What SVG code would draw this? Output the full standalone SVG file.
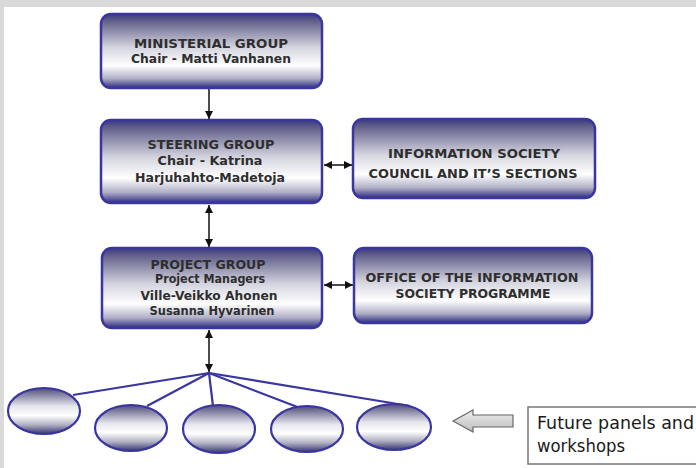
<svg xmlns="http://www.w3.org/2000/svg" width="696" height="468" viewBox="0 0 696 468">
  <style>
    .box { stroke: #3a36a0; stroke-width: 2.5; fill: url(#boxGrad); }
    .oval { stroke: #3a36a0; stroke-width: 2.2; fill: url(#ovalGrad); }
    .t { font-family: "DejaVu Sans", Verdana, sans-serif; font-weight: bold; fill: #2e2e2e; text-anchor: middle; }
    .conn { stroke: #111; stroke-width: 1.5; fill: none; }
    .spoke { stroke: #3a36a0; stroke-width: 2.2; fill: none; }
    .note { font-family: "DejaVu Sans", Tahoma, sans-serif; font-size: 17px; fill: #1a1a1a; }
  </style>
  <defs>
    <linearGradient id="boxGrad" x1="0" y1="0" x2="0" y2="1">
      <stop offset="0" stop-color="#3b3880"/>
      <stop offset="0.1" stop-color="#64628c"/>
      <stop offset="0.45" stop-color="#d4d4df"/>
      <stop offset="0.7" stop-color="#ffffff"/>
      <stop offset="0.87" stop-color="#b0b0c6"/>
      <stop offset="1" stop-color="#2e2a80"/>
    </linearGradient>
    <linearGradient id="ovalGrad" x1="0" y1="0" x2="0" y2="1">
      <stop offset="0" stop-color="#4e4c78"/>
      <stop offset="0.4" stop-color="#e6e6ee"/>
      <stop offset="0.6" stop-color="#ffffff"/>
      <stop offset="0.8" stop-color="#b0b0c4"/>
      <stop offset="1" stop-color="#35336e"/>
    </linearGradient>
    <linearGradient id="arrowGrad" x1="0" y1="0" x2="0" y2="1">
      <stop offset="0" stop-color="#eeeeee"/>
      <stop offset="1" stop-color="#bdbdbd"/>
    </linearGradient>
    <marker id="head" viewBox="0 0 10 10" refX="10" refY="5" markerWidth="5.5" markerHeight="5.5" orient="auto-start-reverse" markerUnits="strokeWidth">
      <path d="M0,0 L10,5 L0,10 Z" fill="#111"/>
    </marker>
  </defs>

  <!-- page background and frame strips -->
  <rect x="0" y="0" width="696" height="468" fill="#ffffff"/>
  <rect x="0" y="0" width="696" height="7" fill="#d9d9d9"/>
  <rect x="0" y="0" width="4" height="468" fill="#d9d9d9"/>

  <!-- connectors -->
  <g id="connectors">
    <line class="conn" x1="209" y1="89" x2="209" y2="119" marker-end="url(#head)"/>
    <line class="conn" x1="209" y1="205" x2="209" y2="247" marker-start="url(#head)" marker-end="url(#head)"/>
    <line class="conn" x1="209" y1="330" x2="209" y2="372" marker-start="url(#head)" marker-end="url(#head)"/>
    <line class="conn" x1="324" y1="165" x2="352" y2="165" marker-start="url(#head)" marker-end="url(#head)"/>
    <line class="conn" x1="324" y1="285" x2="353" y2="285" marker-start="url(#head)" marker-end="url(#head)"/>
    <line class="spoke" x1="209" y1="373" x2="73" y2="395"/>
    <line class="spoke" x1="209" y1="373" x2="147" y2="406"/>
    <line class="spoke" x1="209" y1="373" x2="213" y2="406"/>
    <line class="spoke" x1="209" y1="373" x2="300" y2="408"/>
    <line class="spoke" x1="209" y1="373" x2="410" y2="406"/>
    <polygon points="453,421 473,410 473,415 513,415 513,427 473,427 473,432" fill="url(#arrowGrad)" stroke="#666" stroke-width="1.2"/>
  </g>

  <g id="ministerial-group">
    <rect class="box" x="101" y="14" width="221" height="74" rx="10"/>
    <text class="t" x="211" y="48" font-size="12.5" textLength="154" lengthAdjust="spacingAndGlyphs">MINISTERIAL GROUP</text>
    <text class="t" x="211" y="63" font-size="12.5" textLength="160" lengthAdjust="spacingAndGlyphs">Chair - Matti Vanhanen</text>
  </g>

  <g id="steering-group">
    <rect class="box" x="101" y="120" width="221" height="83" rx="10"/>
    <text class="t" x="211" y="149" font-size="12" textLength="127" lengthAdjust="spacingAndGlyphs">STEERING GROUP</text>
    <text class="t" x="210" y="165" font-size="13" textLength="105" lengthAdjust="spacingAndGlyphs">Chair - Katrina</text>
    <text class="t" x="210" y="182" font-size="13" textLength="150" lengthAdjust="spacingAndGlyphs">Harjuhahto-Madetoja</text>
  </g>

  <g id="information-society-council">
    <rect class="box" x="353" y="119" width="242" height="79" rx="10"/>
    <text class="t" x="474" y="158" font-size="12.5" textLength="172" lengthAdjust="spacingAndGlyphs">INFORMATION SOCIETY</text>
    <text class="t" x="473" y="178" font-size="13" textLength="209" lengthAdjust="spacingAndGlyphs">COUNCIL AND IT’S SECTIONS</text>
  </g>

  <g id="project-group">
    <rect class="box" x="102" y="248" width="220" height="80" rx="10"/>
    <text class="t" x="208" y="269" font-size="12.5" textLength="115" lengthAdjust="spacingAndGlyphs">PROJECT GROUP</text>
    <text class="t" x="210" y="283" font-size="11.5" textLength="110" lengthAdjust="spacingAndGlyphs">Project Managers</text>
    <text class="t" x="209" y="300" font-size="11.5" textLength="137" lengthAdjust="spacingAndGlyphs">Ville-Veikko Ahonen</text>
    <text class="t" x="212" y="315" font-size="11.5" textLength="125" lengthAdjust="spacingAndGlyphs">Susanna Hyvarinen</text>
  </g>

  <g id="programme-office">
    <rect class="box" x="354" y="248" width="238" height="75" rx="10"/>
    <text class="t" x="472" y="282" font-size="12.5" textLength="213" lengthAdjust="spacingAndGlyphs">OFFICE OF THE INFORMATION</text>
    <text class="t" x="473" y="298" font-size="12.5" textLength="155" lengthAdjust="spacingAndGlyphs">SOCIETY PROGRAMME</text>
  </g>

  <g id="panel-1"><ellipse class="oval" cx="44" cy="411" rx="36" ry="23"/></g>
  <g id="panel-2"><ellipse class="oval" cx="131" cy="428" rx="36" ry="23"/></g>
  <g id="panel-3"><ellipse class="oval" cx="219" cy="429" rx="36" ry="24"/></g>
  <g id="panel-4"><ellipse class="oval" cx="307" cy="429" rx="36" ry="23"/></g>
  <g id="panel-5"><ellipse class="oval" cx="394" cy="427" rx="37" ry="23"/></g>

  <g id="future-panels-note">
    <rect x="528" y="407" width="180" height="57" fill="#ffffff" stroke="#777" stroke-width="1.5"/>
    <text class="note" x="537" y="429" textLength="157" lengthAdjust="spacingAndGlyphs">Future panels and</text>
    <text class="note" x="537" y="452" textLength="88" lengthAdjust="spacingAndGlyphs">workshops</text>
  </g>
</svg>
